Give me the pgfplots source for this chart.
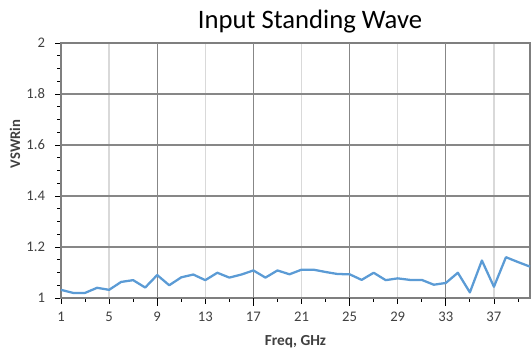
\documentclass[border=0pt]{standalone}
\usepackage{pgfplots}
\pgfplotsset{compat=1.18}
\usepackage{fontspec}
\setmainfont{Carlito}
\definecolor{lineblue}{HTML}{5B9BD5}
\definecolor{ticktxt}{HTML}{404040}
\definecolor{gridlight}{HTML}{D9D9D9}
\definecolor{griddark}{HTML}{878787}
\definecolor{axisc}{HTML}{7F7F7F}
\pgfplotstableread{
x y
1 1.032
2 1.020
3 1.020
4 1.040
5 1.032
6 1.063
7 1.070
8 1.041
9 1.090
10 1.050
11 1.081
12 1.092
13 1.070
14 1.099
15 1.080
16 1.092
17 1.108
18 1.080
19 1.108
20 1.093
21 1.111
22 1.111
23 1.102
24 1.094
25 1.093
26 1.071
27 1.099
28 1.070
29 1.077
30 1.071
31 1.071
32 1.052
33 1.059
34 1.099
35 1.022
36 1.147
37 1.044
38 1.160
39 1.141
40 1.123
}\datatable
\begin{document}
\begin{tikzpicture}
\path[use as bounding box] (0,0) rectangle (399pt,267pt);
\begin{axis}[
  at={(45.75pt,43.5pt)}, anchor=south west,
  scale only axis, width=351.75pt, height=191.25pt,
  xmin=1, xmax=40, ymin=1, ymax=2,
  xtick={1,5,...,37}, minor xtick={3,7,...,39},
  ytick={1,1.2,...,2.01}, minor ytick={1.05,1.1,1.15,1.25,1.3,1.35,1.45,1.5,1.55,1.65,1.7,1.75,1.85,1.9,1.95},
  yticklabels={1,1.2,1.4,1.6,1.8,2},
  tick align=outside, tick pos=left,
  major tick length=4.5pt, minor tick length=3pt,
  tick style={black, line width=0.6pt},
  minor tick style={black, line width=0.6pt},
  xmajorgrids, ymajorgrids,
  y grid style={griddark, line width=0.9pt},
  x grid style={gridlight, line width=1pt},
  extra x ticks={9,17,25,33},
  extra x tick labels={},
  extra x tick style={grid=major, x grid style={griddark, line width=0.9pt}, major tick length=6pt},
  axis line style={axisc, line width=0.9pt},
  tick label style={font=\fontsize{11}{13}\selectfont, text=ticktxt},
  /pgf/number format/assume math mode=true,
  xticklabel style={yshift=-2.5pt},
  yticklabel style={xshift=-4pt},
  clip=false,
]
\addplot[lineblue, line width=1.7pt, line join=round] table[x=x,y=y]{\datatable};
\end{axis}
\node[anchor=base, font=\fontsize{20}{23}\selectfont] at (232.5pt,245.25pt) {Input Standing Wave};
\node[rotate=90, font=\bfseries\fontsize{11}{13}\selectfont, text=ticktxt] at (11.25pt,159pt) {VSWRin};
\node[font=\bfseries\fontsize{11.5}{13}\selectfont, text=ticktxt] at (221.6pt,10.5pt) {Freq, GHz};
\end{tikzpicture}
\end{document}
